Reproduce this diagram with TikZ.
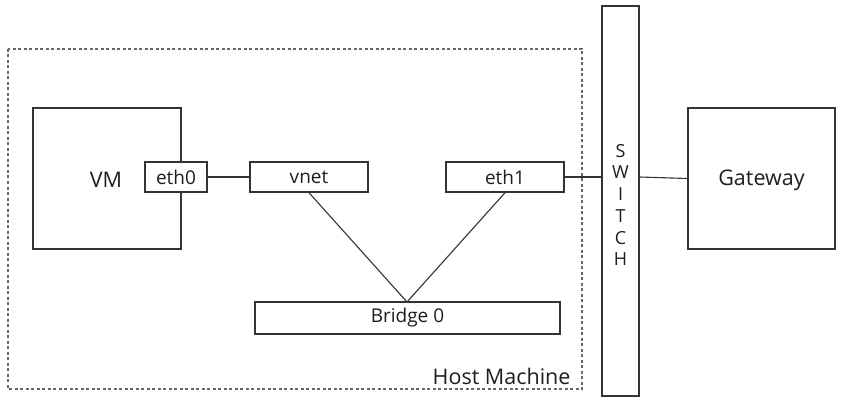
\documentclass[tikz,border=0pt]{standalone}
\usepackage{fontspec}
\setmainfont{Open Sans}
\definecolor{linec}{HTML}{333333}
\definecolor{dashc}{HTML}{666666}
\definecolor{textc}{HTML}{1E1E1E}
\begin{document}
\begin{tikzpicture}[x=1pt,y=-1pt,
  box/.style={draw=linec, line width=1.4pt, fill=white, inner sep=0pt, text=textc},
  big/.style={font=\fontsize{21.5}{24}\selectfont},
  small/.style={font=\fontsize{19}{22}\selectfont},
  conn/.style={draw=linec, line width=1.1pt}]
\useasboundingbox (0,0) rectangle (845,406);
\draw[dashc, line width=1.1pt, dash pattern=on 3pt off 2.5pt] (8,49) rectangle (582,389);
\node[anchor=east, text=textc, big] (host) at (574,376) {Host Machine};
\node[box, minimum width=148pt, minimum height=141pt] (vm) at (107,178.5) {};
\node[text=textc, big] (vmt) at (106,180) {VM};
\node[box, small, minimum width=62pt, minimum height=30pt] (eth0) at (176,177) {eth0};
\node[box, small, minimum width=118pt, minimum height=30pt] (vnet) at (309,177) {vnet};
\node[box, small, minimum width=118pt, minimum height=30pt] (eth1) at (505,177) {eth1};
\node[box, small, minimum width=305pt, minimum height=32pt] (br) at (407.5,318) {Bridge 0};
\node[box, minimum width=37pt, minimum height=390pt] (sw) at (620.5,201) {};
\node[text=textc, align=center, font=\fontsize{18}{21.7}\selectfont] (swt) at (620.5,205) {S\\W\\I\\T\\C\\H};
\node[box, minimum width=147pt, minimum height=141pt] (gw) at (761.5,178.5) {};
\node[text=textc, big] (gwt) at (761.5,180) {Gateway};
\coordinate (brtop) at (407,302);
\draw[conn] (eth0.east) -- (vnet.west);
\draw[conn] (vnet.south) -- (brtop);
\draw[conn] (eth1.south) -- (brtop);
\draw[conn] (eth1.east) -- (eth1.east -| sw.west);
\draw[conn] (eth1.east -| sw.east) -- (gw.west);
\end{tikzpicture}
\end{document}
